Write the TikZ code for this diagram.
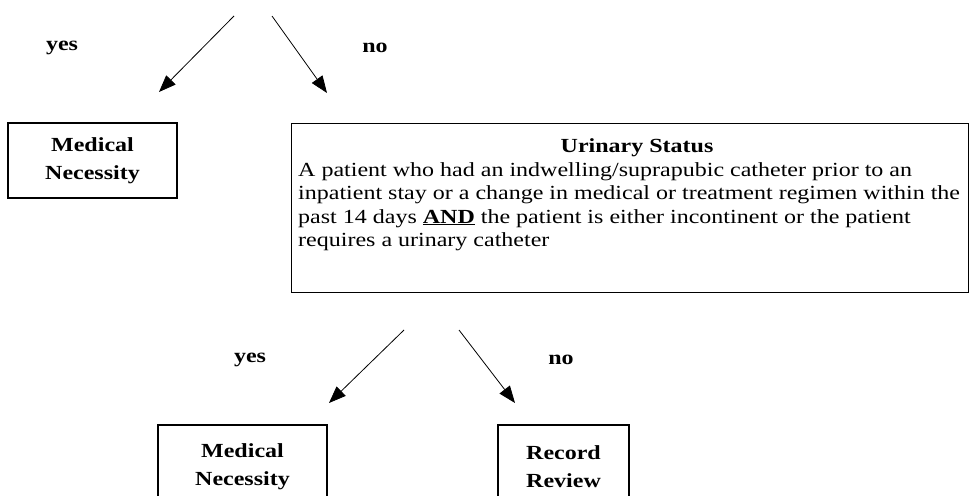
\documentclass[tikz,border=0pt]{standalone}
\usepackage{fontspec}
\setmainfont{Liberation Serif}[FakeStretch=1.2]
\usetikzlibrary{arrows.meta}

\tikzset{
  outcome/.style={draw, line width=1.3pt, align=center, font=\fontsize{20}{28}\selectfont\bfseries, inner sep=0pt},
  answer/.style={font=\fontsize{20}{23}\selectfont\bfseries},
  flow/.style={line width=0.8pt, -{Triangle[length=17pt,width=13pt]}},
}

\begin{document}
\begin{tikzpicture}[x=1pt,y=-1pt]
    \useasboundingbox (0,0) rectangle (973,495);
    % top split
    \coordinate (top1) at (234,16);
    \coordinate (top2) at (272,16);
    \coordinate (tip1) at (159,92);
    \coordinate (tip2) at (327,93);
    \draw[flow] (top1) -- (tip1);
    \draw[flow] (top2) -- (tip2);
    \node[answer] (yes1) at (62,48) {yes};
    \node[answer] (no1) at (375,48) {no};
    \node[outcome, minimum width=169pt, minimum height=75pt] (necessity1) at (92.5,160.5) {Medical\\Necessity};
    \node[draw, line width=1.3pt, anchor=north west, minimum width=677pt, minimum height=169pt, inner sep=0pt] (status) at (291,123) {};
    \node[font=\fontsize{20}{23}\selectfont\bfseries] (title) at (637,148) {Urinary Status};
    \node[anchor=north west, align=left, inner sep=0pt, font=\fontsize{20}{23.5}\selectfont] (rule) at (298,162)
      {A patient who had an indwelling/suprapubic catheter prior to an\\
       inpatient stay or a change in medical or treatment regimen within the\\
       past 14 days \underline{\textbf{AND}} the patient is either incontinent or the patient\\
       requires a urinary catheter};
    % bottom split
    \coordinate (top3) at (404,330);
    \coordinate (top4) at (459,330);
    \coordinate (tip3) at (329,403);
    \coordinate (tip4) at (515,403);
    \draw[flow] (top3) -- (tip3);
    \draw[flow] (top4) -- (tip4);
    \node[answer] (yes2) at (250,360) {yes};
    \node[answer] (no2) at (561,360) {no};
    \node[outcome, minimum width=169pt, minimum height=84pt] (necessity2) at (242.5,467) {Medical\\Necessity};
    \node[outcome, minimum width=131pt, minimum height=84pt] (review) at (563.5,467) {Record\\Review};
\end{tikzpicture}
\end{document}
